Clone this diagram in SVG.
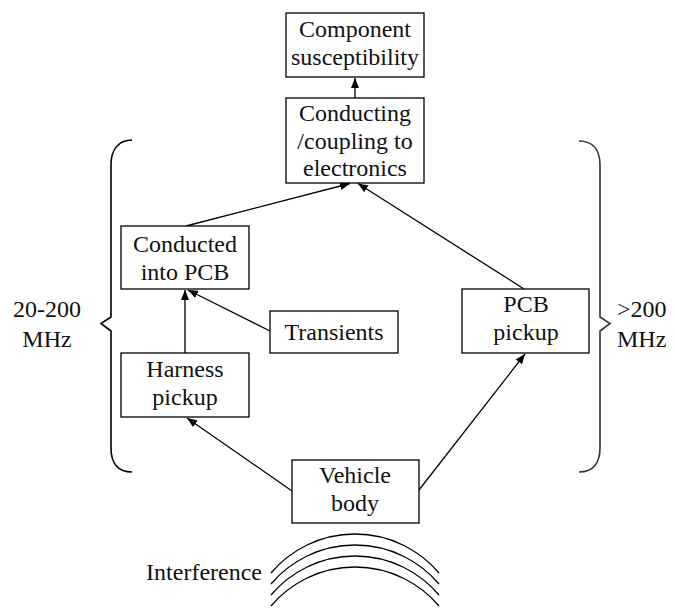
<svg xmlns="http://www.w3.org/2000/svg" width="675" height="608" viewBox="0 0 675 608" font-family="'Liberation Serif', 'Times New Roman', 'DejaVu Serif', serif">
<defs>
<marker id="ah" markerUnits="userSpaceOnUse" markerWidth="10" markerHeight="8" viewBox="0 0 10 8" refX="10" refY="4" orient="auto">
<path d="M0,0 L10,4 L0,8 Z" fill="#000"/>
</marker>
</defs>
<style>
.box{fill:#fff;stroke:#000;stroke-width:1.3}
.t{font-family:'Liberation Serif','Times New Roman','DejaVu Serif',serif;font-size:24px;fill:#111;text-anchor:middle}
.c{fill:none;stroke:#000;stroke-width:1.3}
.br{fill:none;stroke-width:1.6}
.arc{fill:none;stroke:#000;stroke-width:1.3}
</style>
<rect width="675" height="608" fill="#fff"/>

<g id="connectors">
<line class="c" x1="355" y1="98" x2="355" y2="78" marker-end="url(#ah)"/>
<line class="c" x1="186" y1="226" x2="350" y2="183.5" marker-end="url(#ah)"/>
<line class="c" x1="524" y1="289" x2="358" y2="183.5" marker-end="url(#ah)"/>
<line class="c" x1="185" y1="353" x2="185" y2="290" marker-end="url(#ah)"/>
<line class="c" x1="270" y1="331" x2="188" y2="290" marker-end="url(#ah)"/>
<line class="c" x1="292" y1="491" x2="187" y2="418" marker-end="url(#ah)"/>
<line class="c" x1="419" y1="490" x2="525" y2="354" marker-end="url(#ah)"/>
</g>

<g id="component">
<rect class="box" x="286" y="13" width="138" height="64"/>
<text class="t" x="355" y="37">Component</text>
<text class="t" x="355" y="65">susceptibility</text>
</g>

<g id="conducting">
<rect class="box" x="286" y="98" width="138" height="85"/>
<text class="t" x="355" y="121">Conducting</text>
<text class="t" x="355" y="149">/coupling to</text>
<text class="t" x="355" y="176">electronics</text>
</g>

<g id="conducted">
<rect class="box" x="121" y="226" width="128" height="63"/>
<text class="t" x="185" y="252">Conducted</text>
<text class="t" x="185" y="280">into PCB</text>
</g>

<g id="transients">
<rect class="box" x="270" y="311" width="128" height="42"/>
<text class="t" x="334" y="340">Transients</text>
</g>

<g id="harness">
<rect class="box" x="121" y="353" width="128" height="64"/>
<text class="t" x="185" y="377">Harness</text>
<text class="t" x="185" y="405">pickup</text>
</g>

<g id="pcb">
<rect class="box" x="462" y="289" width="127" height="64"/>
<text class="t" x="526" y="312">PCB</text>
<text class="t" x="526" y="340">pickup</text>
</g>

<g id="vehicle">
<rect class="box" x="292" y="460" width="127" height="63"/>
<text class="t" x="355" y="483">Vehicle</text>
<text class="t" x="355" y="511">body</text>
</g>

<g id="brace-left">
<path class="br" stroke="#000" d="M132,140 C118,140 111,150 111,165 V317 L101,323.5 L111,331 V448 C111,463 118,472 132,472"/>
<text class="t" x="47" y="317">20-200</text>
<text class="t" x="47" y="347">MHz</text>
</g>

<g id="brace-right">
<path class="br" stroke="#333" d="M579,141 C593,141 600,150 600,165 V317 L610,323.5 L600,331 V448 C600,463 593,472 579,472"/>
<text class="t" x="617" y="317" style="text-anchor:start">&gt;200</text>
<text class="t" x="617" y="347" style="text-anchor:start">MHz</text>
</g>

<g id="interference">
<path class="arc" d="M271,573 A110,110 0 0 1 439,573"/>
<path class="arc" d="M271,584 A110,110 0 0 1 439,584"/>
<path class="arc" d="M271,595 A110,110 0 0 1 439,595"/>
<path class="arc" d="M271,606 A110,110 0 0 1 439,606"/>
<text class="t" x="262" y="580" style="text-anchor:end">Interference</text>
</g>
</svg>
